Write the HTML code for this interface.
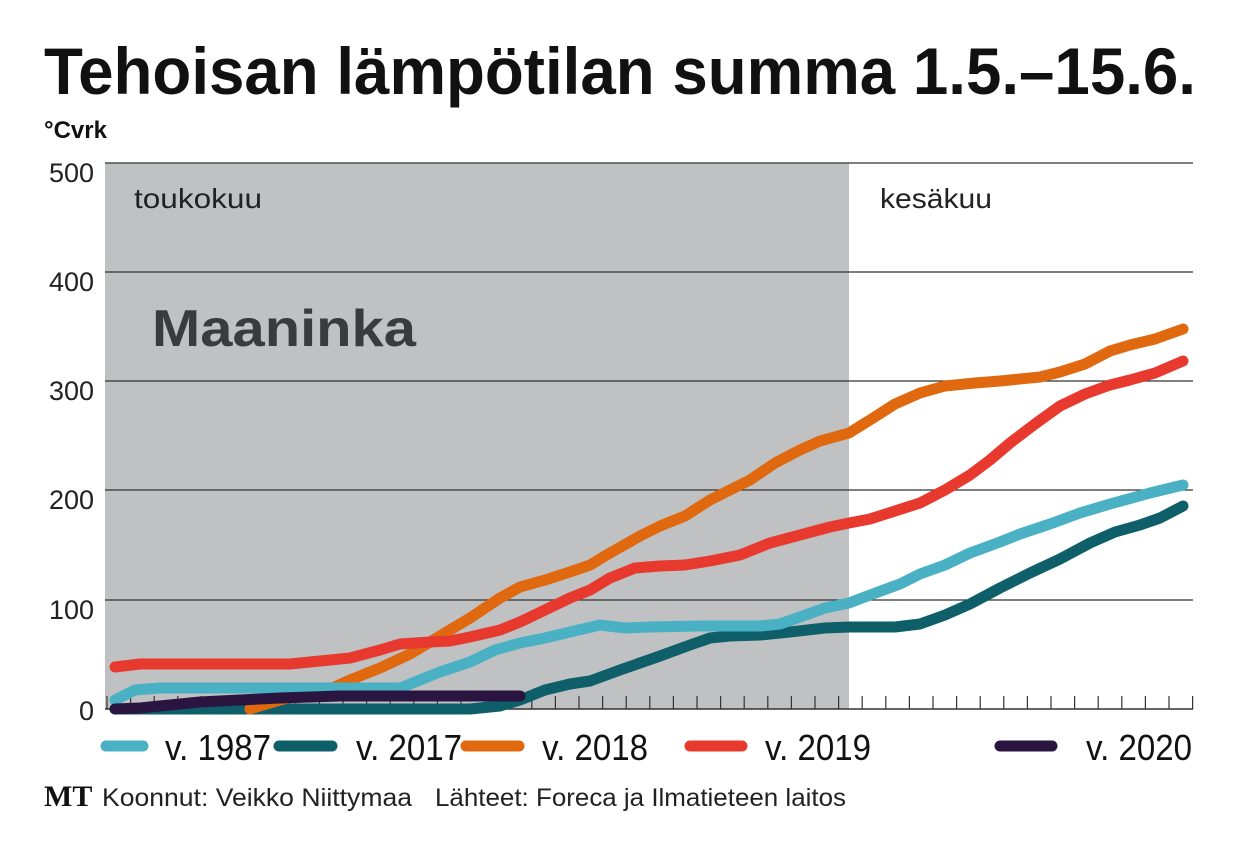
<!DOCTYPE html>
<html><head><meta charset="utf-8"><style>
html,body{margin:0;padding:0;background:#fff;}
svg{display:block;}
text{font-family:"Liberation Sans",sans-serif;}
</style></head><body>
<svg width="1240" height="854" viewBox="0 0 1240 854" xmlns="http://www.w3.org/2000/svg">
<text x="44" y="94" font-size="66" font-weight="bold" fill="#111" textLength="1152" lengthAdjust="spacingAndGlyphs">Tehoisan lämpötilan summa 1.5.–15.6.</text>
<text x="44" y="138" font-size="24" font-weight="bold" fill="#111">°Cvrk</text>
<rect x="105" y="163" width="744" height="546" fill="#c0c1c3"/>
<g stroke="#333" stroke-width="1.2">
<line x1="105" y1="163" x2="1193" y2="163"/>
<line x1="105" y1="272" x2="1193" y2="272"/>
<line x1="105" y1="381" x2="1193" y2="381"/>
<line x1="105" y1="490" x2="1193" y2="490"/>
<line x1="105" y1="600" x2="1193" y2="600"/>
<line x1="105" y1="709" x2="1193" y2="709" stroke-width="1.5"/>
</g>
<path stroke="#333" stroke-width="1.2" fill="none" d="M107,696V709M130.6,696V709M154.2,696V709M177.8,696V709M201.4,696V709M225,696V709M248.6,696V709M272.2,696V709M295.8,696V709M319.4,696V709M343,696V709M366.6,696V709M390.2,696V709M413.8,696V709M437.4,696V709M461,696V709M484.6,696V709M508.2,696V709M531.8,696V709M555.4,696V709M579,696V709M602.6,696V709M626.2,696V709M649.8,696V709M673.4,696V709M697,696V709M720.6,696V709M744.2,696V709M767.8,696V709M791.4,696V709M815,696V709M838.6,696V709M862.2,696V709M885.8,696V709M909.4,696V709M933,696V709M956.6,696V709M980.2,696V709M1003.8,696V709M1027.4,696V709M1051,696V709M1074.6,696V709M1098.2,696V709M1121.8,696V709M1145.4,696V709M1169,696V709M1192.6,696V709"/>
<g font-size="27" fill="#222" text-anchor="end">
<text x="94" y="182">500</text><text x="94" y="291">400</text><text x="94" y="400">300</text><text x="94" y="509">200</text><text x="94" y="619">100</text><text x="94" y="720">0</text>
</g>
<text x="134" y="208" font-size="28" fill="#222" textLength="128" lengthAdjust="spacingAndGlyphs">toukokuu</text>
<text x="880" y="208" font-size="28" fill="#222" textLength="112" lengthAdjust="spacingAndGlyphs">kesäkuu</text>
<text x="152" y="346" font-size="52" font-weight="bold" fill="#3a3b3d" textLength="264" lengthAdjust="spacingAndGlyphs">Maaninka</text>
<g fill="none" stroke-width="11" stroke-linecap="round" stroke-linejoin="round">
<polyline stroke="#0e5f6a" points="115,709 470,709 500,706 520,700 545,690 570,684 590,681 620,670 660,656 690,645 710,638 730,636 760,635 790,632 825,628 849,627 895,627 920,624 945,615 970,604 1000,588 1030,573 1060,559 1090,543 1115,532 1140,525 1160,518 1183,506"/>
<polyline stroke="#e0690f" points="250,709 280,700 310,693 330,689 350,680 380,668 410,654 440,636 470,618 500,598 520,587 545,580 570,572 590,565 610,553 640,536 660,526 685,516 710,500 730,490 750,480 775,463 800,450 820,441 849,433 870,420 895,404 920,393 945,386 975,383 1000,381 1040,377 1060,372 1085,364 1110,351 1130,345 1155,339 1183,329"/>
<polyline stroke="#4ab0c4" points="115,700 135,690 160,688 290,688 400,688 420,680 440,672 470,662 495,650 520,643 545,638 570,632 600,625 625,628 650,627 700,626 760,626 780,624 800,617 825,608 849,603 870,595 900,584 920,574 945,565 970,553 1000,542 1020,534 1050,524 1080,513 1110,504 1150,493 1183,485"/>
<polyline stroke="#e8392e" points="115,667 140,664 290,664 310,662 330,660 350,658 380,650 400,644 430,642 450,641 470,637 500,630 520,622 545,610 570,598 590,590 610,578 635,568 660,566 685,565 710,561 740,555 770,543 800,535 830,527 849,523 870,519 895,511 920,503 945,490 970,475 990,460 1010,443 1035,424 1060,406 1085,394 1110,385 1130,380 1155,373 1183,361"/>
<polyline stroke="#2a1540" points="115,709 140,708 170,705 200,702 240,700 280,698 310,697 340,696 380,696 520,696"/>
</g>
<g stroke-width="11" stroke-linecap="round">
<line x1="106" y1="746" x2="143" y2="746" stroke="#4ab0c4"/>
<line x1="279" y1="746" x2="332" y2="746" stroke="#0e5f6a"/>
<line x1="466" y1="746" x2="519" y2="746" stroke="#e0690f"/>
<line x1="690" y1="746" x2="742" y2="746" stroke="#e8392e"/>
<line x1="1000" y1="746" x2="1052" y2="746" stroke="#2a1540"/>
</g>
<g font-size="36" fill="#111">
<text x="165" y="760" textLength="106" lengthAdjust="spacingAndGlyphs">v. 1987</text>
<text x="356" y="760" textLength="106" lengthAdjust="spacingAndGlyphs">v. 2017</text>
<text x="542" y="760" textLength="106" lengthAdjust="spacingAndGlyphs">v. 2018</text>
<text x="765" y="760" textLength="106" lengthAdjust="spacingAndGlyphs">v. 2019</text>
<text x="1086" y="760" textLength="106" lengthAdjust="spacingAndGlyphs">v. 2020</text>
</g>
<text x="44" y="806" font-size="30" font-weight="bold" fill="#111" style="font-family:'Liberation Serif',serif">MT</text>
<text x="102" y="806" font-size="25" fill="#222" textLength="310" lengthAdjust="spacingAndGlyphs">Koonnut: Veikko Niittymaa</text>
<text x="435" y="806" font-size="25" fill="#222" textLength="411" lengthAdjust="spacingAndGlyphs">Lähteet: Foreca ja Ilmatieteen laitos</text>
</svg>
</body></html>
